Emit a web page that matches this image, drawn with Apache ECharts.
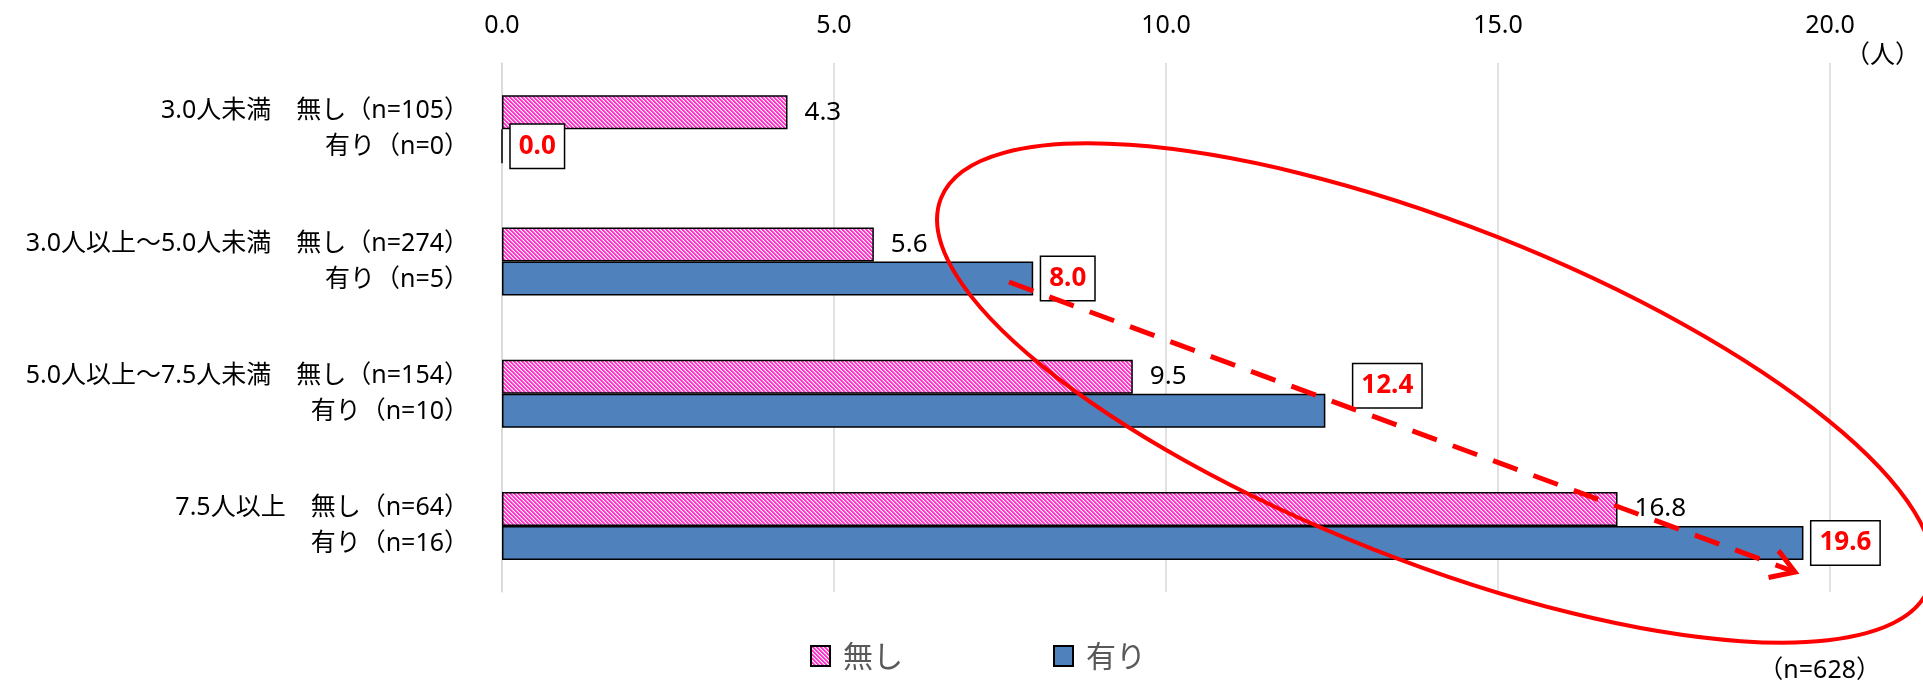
<!DOCTYPE html>
<html>

<head>
    <meta charset="utf-8">
    <title>人数別 有無の比較</title>
    <script src="https://cdn.jsdelivr.net/npm/echarts@6/dist/echarts.min.js"></script>
    <style>
        html, body { margin: 0; padding: 0; background: #fff; }
    </style>
</head>

<body>
    <div id="main" style="width: 1923px;height:684px;"></div>
    <script type="text/javascript">
        // categories and values
        var categories = ['3.0人未満', '3.0人以上～5.0人未満', '5.0人以上～7.5人未満', '7.5人以上'];
        var nashiN = [105, 274, 154, 64];
        var ariN = [0, 5, 10, 16];
        var nashiValues = [4.3, 5.6, 9.5, 16.8];
        var ariValues = [0.0, 8.0, 12.4, 19.6];
        var totalN = 628;

        var FONT = '"Noto Sans", "Noto Sans CJK JP", sans-serif';
        var CJK = '"Noto Sans CJK JP", sans-serif';

        // pink hatch pattern for 無し
        function makeHatch() {
            var c = document.createElement('canvas');
            c.width = 8;
            c.height = 8;
            var ctx = c.getContext('2d');
            var cols = ['#FF33CC', '#FF33CC', '#FF8ADF', '#FFFFFF'];
            for (var x = 0; x < 8; x++) {
                for (var y = 0; y < 8; y++) {
                    ctx.fillStyle = cols[(((x - y) % 4) + 4) % 4];
                    ctx.fillRect(x, y, 1, 1);
                }
            }
            return c;
        }
        var hatch = { image: makeHatch(), repeat: 'repeat' };

        var dom = document.getElementById('main');
        var myChart = echarts.init(dom);

        var ariData = ariValues.map(function (v, i) {
            var item = { value: v };
            if (i === 2) {
                // this box was moved up/right in the original
                item.label = { offset: [20, -25] };
            }
            return item;
        });

        // arrow head
        var arrowStart = [1009, 282];
        var arrowTip = [1795, 572];
        var ang = Math.atan2(arrowTip[1] - arrowStart[1], arrowTip[0] - arrowStart[0]) + Math.PI;
        var headLen = 27, headSpread = 32 * Math.PI / 180;
        var head = [
            [arrowTip[0] + headLen * Math.cos(ang + headSpread), arrowTip[1] + headLen * Math.sin(ang + headSpread)],
            arrowTip,
            [arrowTip[0] + headLen * Math.cos(ang - headSpread), arrowTip[1] + headLen * Math.sin(ang - headSpread)]
        ];

        var option = {
            animation: false,
            backgroundColor: '#ffffff',
            grid: {
                left: 502,
                right: 93,
                top: 63,
                bottom: 92
            },
            legend: {
                data: ['無し', '有り'],
                left: 805,
                top: 636,
                itemWidth: 19,
                itemHeight: 20,
                itemGap: 150,
                icon: 'rect',
                textStyle: {
                    fontSize: 30,
                    color: '#595959',
                    fontFamily: CJK,
                    padding: [0, 0, 0, 8]
                }
            },
            xAxis: {
                type: 'value',
                position: 'top',
                min: 0,
                max: 20,
                interval: 5,
                axisLine: { show: false },
                axisTick: { show: false },
                axisLabel: {
                    margin: 25,
                    fontSize: 25,
                    color: '#000',
                    fontFamily: FONT,
                    formatter: function (v) { return v.toFixed(1); }
                },
                splitLine: {
                    lineStyle: { color: '#D9D9D9', width: 1.5 }
                }
            },
            yAxis: {
                type: 'category',
                inverse: true,
                data: categories,
                axisLine: { lineStyle: { color: '#D9D9D9', width: 1.5 } },
                axisTick: { length: 10, lineStyle: { color: '#D9D9D9', width: 1.5 } },
                axisLabel: {
                    margin: 33,
                    fontSize: 25,
                    lineHeight: 36,
                    color: '#000',
                    fontFamily: FONT,
                    formatter: function (v, i) {
                        return v + '　無し（n=' + nashiN[i] + '）\n有り（n=' + ariN[i] + '）';
                    }
                }
            },
            series: [{
                name: '無し',
                type: 'bar',
                barWidth: 34,
                barGap: '0%',
                itemStyle: {
                    color: hatch,
                    borderColor: '#000',
                    borderWidth: 1.5
                },
                label: {
                    show: true,
                    position: 'right',
                    distance: 17,
                    fontSize: 26,
                    color: '#000',
                    fontFamily: FONT,
                    formatter: function (p) { return p.value.toFixed(1); }
                },
                data: nashiValues
            }, {
                name: '有り',
                type: 'bar',
                barWidth: 34,
                itemStyle: {
                    color: '#4F81BD',
                    borderColor: '#000',
                    borderWidth: 1.5
                },
                label: {
                    show: true,
                    position: 'right',
                    distance: 8,
                    fontSize: 26,
                    fontWeight: 'bold',
                    lineHeight: 28,
                    color: '#FF0000',
                    fontFamily: FONT,
                    backgroundColor: '#fff',
                    borderColor: '#000',
                    borderWidth: 1.5,
                    padding: [8, 8, 7, 8],
                    formatter: function (p) { return Number(p.value).toFixed(1); }
                },
                data: ariData
            }],
            graphic: [{
                type: 'ellipse',
                x: 1435,
                y: 393,
                rotation: -21.5 * Math.PI / 180,
                shape: { cx: 0, cy: 0, rx: 531, ry: 168 },
                style: { fill: null, stroke: '#FF0000', lineWidth: 4 },
                z: 100
            }, {
                type: 'line',
                shape: { x1: arrowStart[0], y1: arrowStart[1], x2: arrowTip[0], y2: arrowTip[1] },
                style: { stroke: '#FF0000', lineWidth: 5, lineDash: [26, 17] },
                z: 100
            }, {
                type: 'polyline',
                shape: { points: head },
                style: { stroke: '#FF0000', lineWidth: 5, fill: null },
                z: 100
            }, {
                type: 'text',
                x: 1920,
                y: 56,
                style: {
                    text: '（人）',
                    fontSize: 25,
                    fontFamily: FONT,
                    fill: '#000',
                    align: 'right',
                    verticalAlign: 'middle'
                },
                z: 100
            }, {
                type: 'text',
                x: 1881,
                y: 671,
                style: {
                    text: '（n=' + totalN + '）',
                    fontSize: 25,
                    fontFamily: FONT,
                    fill: '#000',
                    align: 'right',
                    verticalAlign: 'middle'
                },
                z: 100
            }]
        };

        myChart.setOption(option);
    </script>
</body>

</html>
